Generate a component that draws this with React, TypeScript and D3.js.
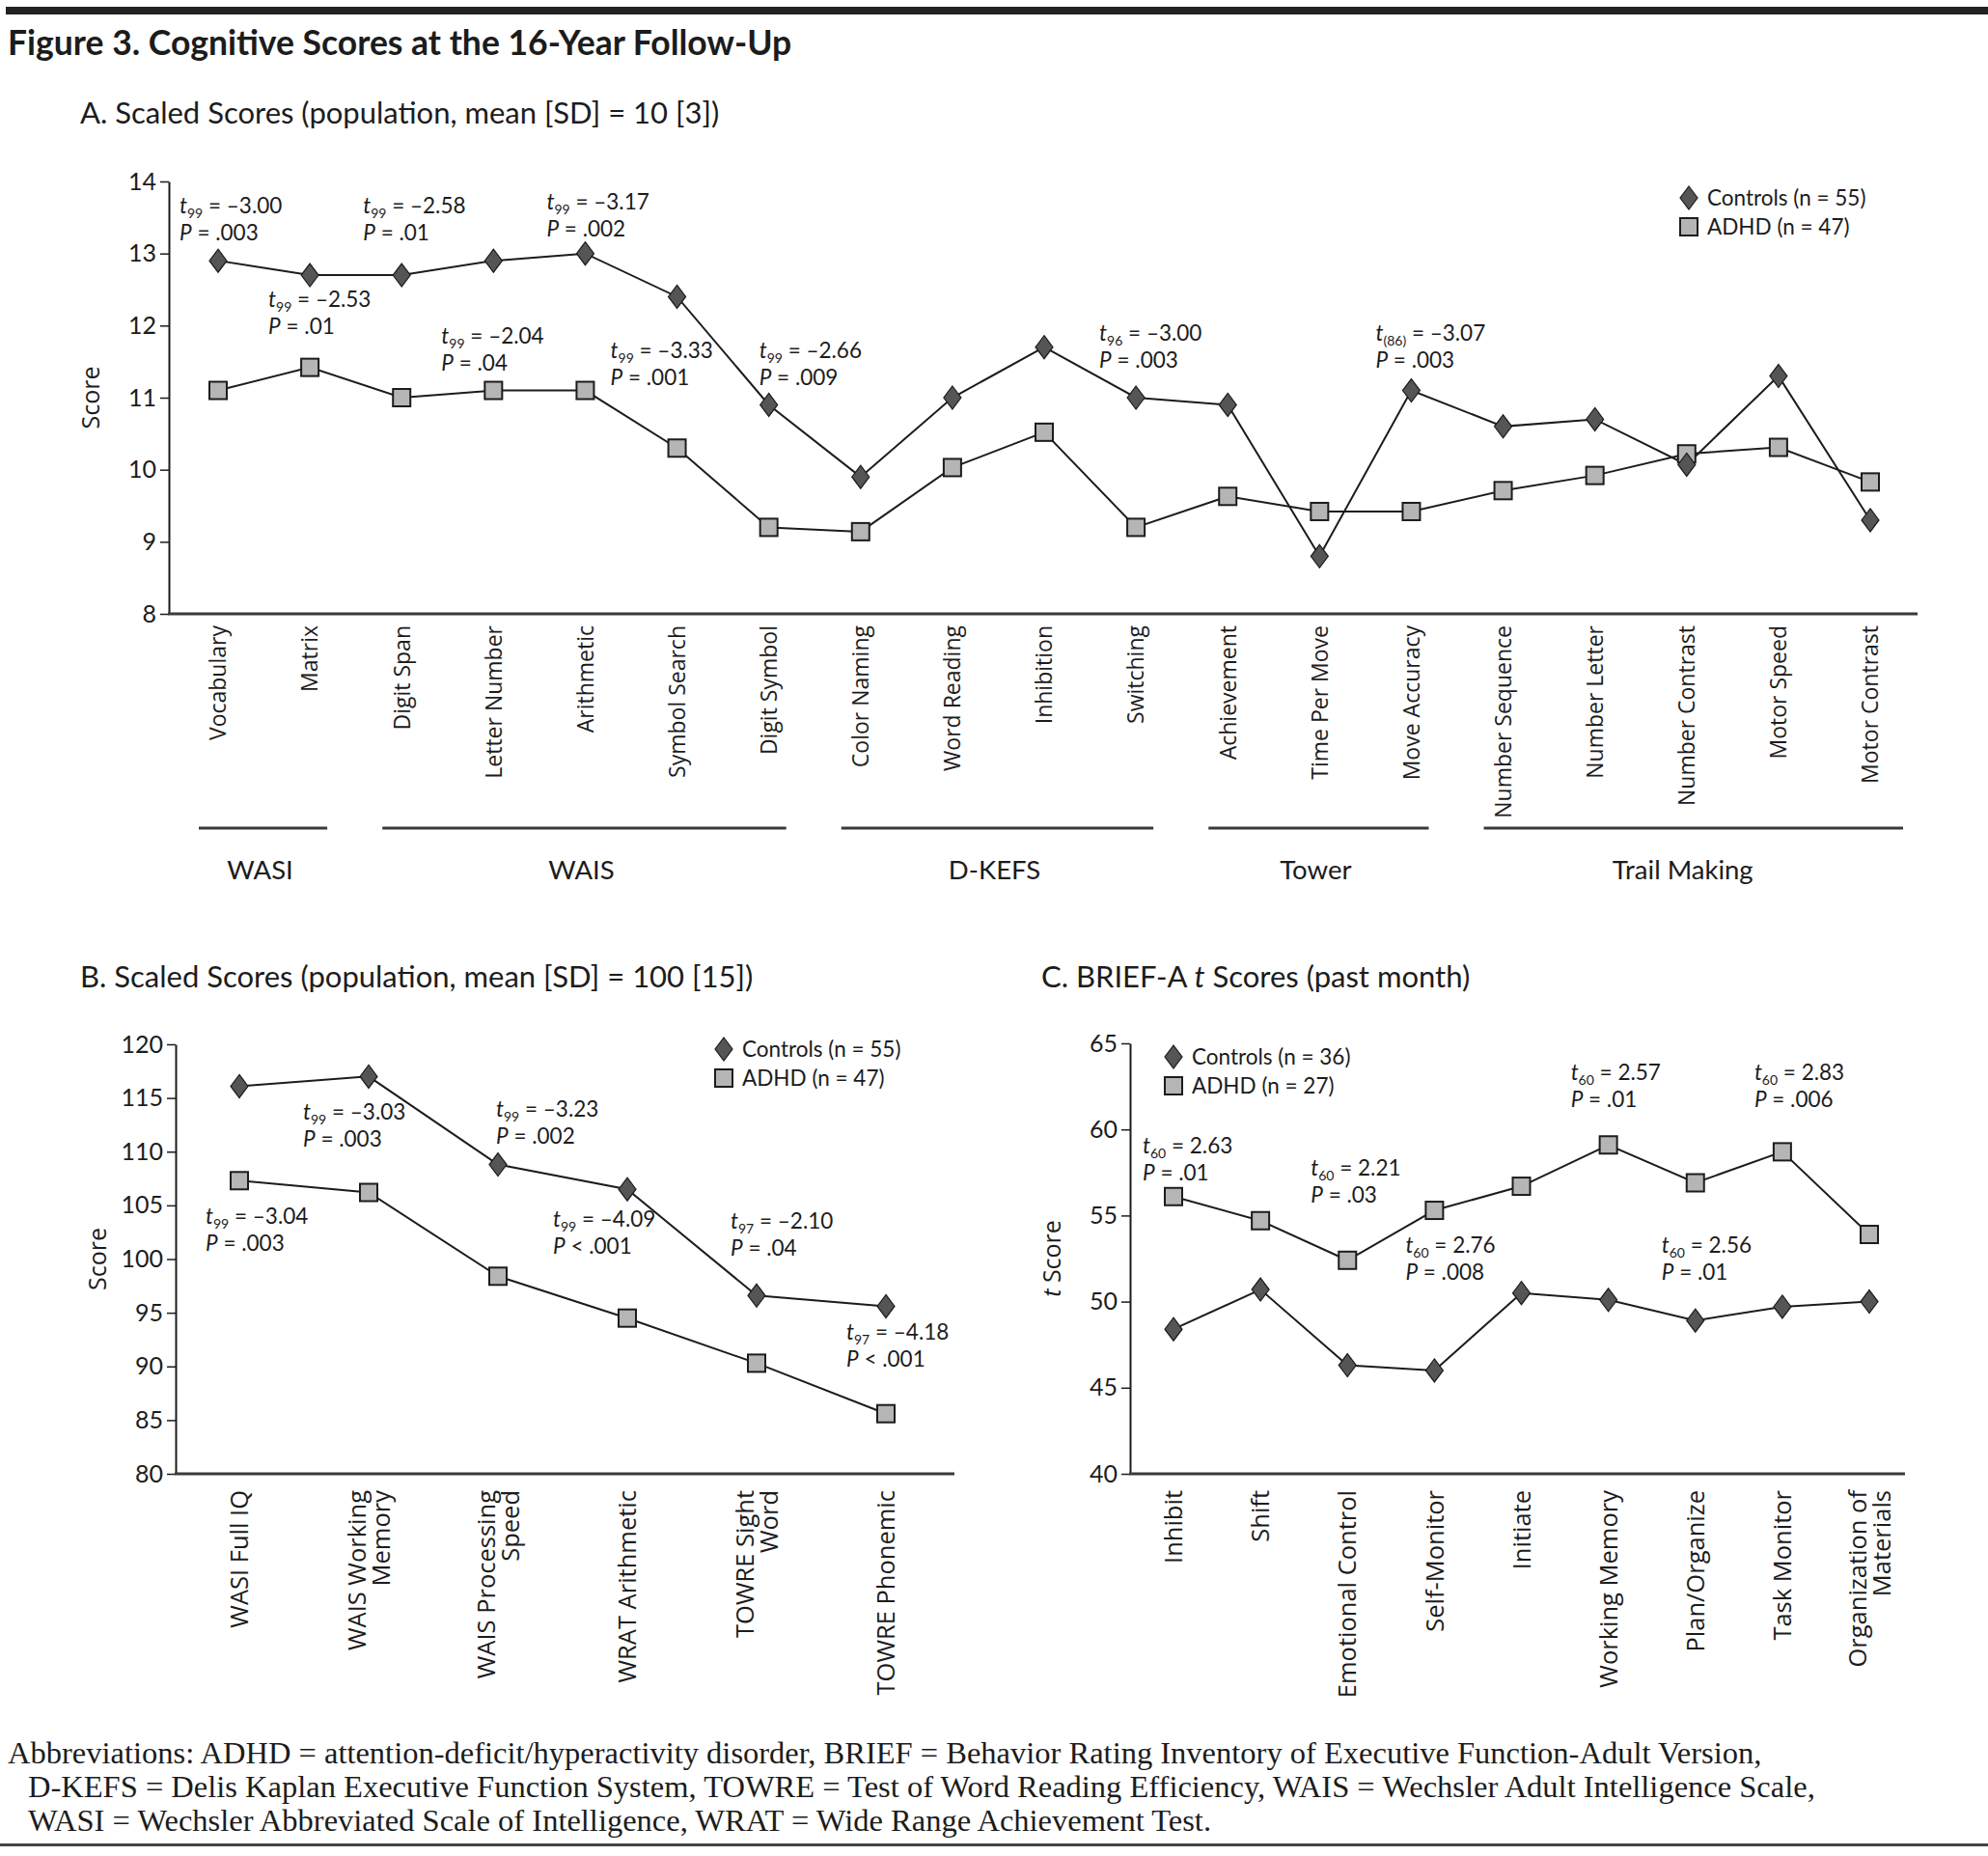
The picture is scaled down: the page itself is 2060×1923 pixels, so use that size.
import * as d3 from "d3";
import { useEffect, useRef } from "react";

// ---- data ----
const panelACategories = [
	"Vocabulary", "Matrix", "Digit Span", "Letter Number", "Arithmetic",
	"Symbol Search", "Digit Symbol", "Color Naming", "Word Reading", "Inhibition",
	"Switching", "Achievement", "Time Per Move", "Move Accuracy", "Number Sequence",
	"Number Letter", "Number Contrast", "Motor Speed", "Motor Contrast",
];
const panelAControls = [12.9, 12.7, 12.7, 12.9, 13.0, 12.4, 10.9, 9.9, 11.0, 11.7, 11.0, 10.9, 8.8, 11.1, 10.6, 10.7, 10.07, 11.3, 9.3];
const panelAAdhd = [11.1, 11.42, 11.0, 11.1, 11.1, 10.3, 9.2, 9.14, 10.03, 10.52, 9.2, 9.63, 9.42, 9.42, 9.71, 9.92, 10.22, 10.31, 9.83];
const panelATicks = [8, 9, 10, 11, 12, 13, 14];
const panelAGroups = [
	{ label: "WASI", from: "Vocabulary", to: "Matrix" },
	{ label: "WAIS", from: "Digit Span", to: "Digit Symbol" },
	{ label: "D-KEFS", from: "Color Naming", to: "Switching" },
	{ label: "Tower", from: "Achievement", to: "Move Accuracy" },
	{ label: "Trail Making", from: "Number Sequence", to: "Motor Contrast" },
];
const panelANotes = [
	{ cat: "Vocabulary", df: "99", t: "–3.00", p: "= .003" },
	{ cat: "Matrix", df: "99", t: "–2.53", p: "= .01" },
	{ cat: "Digit Span", df: "99", t: "–2.58", p: "= .01" },
	{ cat: "Letter Number", df: "99", t: "–2.04", p: "= .04" },
	{ cat: "Arithmetic", df: "99", t: "–3.17", p: "= .002" },
	{ cat: "Symbol Search", df: "99", t: "–3.33", p: "= .001" },
	{ cat: "Digit Symbol", df: "99", t: "–2.66", p: "= .009" },
	{ cat: "Switching", df: "96", t: "–3.00", p: "= .003" },
	{ cat: "Move Accuracy", df: "(86)", t: "–3.07", p: "= .003" },
];
const panelALegend = ["Controls (n = 55)", "ADHD (n = 47)"];

const panelBCategories = [
	"WASI Full IQ", "WAIS Working\nMemory", "WAIS Processing\nSpeed",
	"WRAT Arithmetic", "TOWRE Sight\nWord", "TOWRE Phonemic",
];
const panelBControls = [116.1, 117.0, 108.8, 106.5, 96.6, 95.6];
const panelBAdhd = [107.3, 106.2, 98.4, 94.5, 90.3, 85.6];
const panelBTicks = [80, 85, 90, 95, 100, 105, 110, 115, 120];
const panelBNotes = [
	{ cat: "WASI Full IQ", df: "99", t: "–3.04", p: "= .003" },
	{ cat: "WAIS Working\nMemory", df: "99", t: "–3.03", p: "= .003" },
	{ cat: "WAIS Processing\nSpeed", df: "99", t: "–3.23", p: "= .002" },
	{ cat: "WRAT Arithmetic", df: "99", t: "–4.09", p: "< .001" },
	{ cat: "TOWRE Sight\nWord", df: "97", t: "–2.10", p: "= .04" },
	{ cat: "TOWRE Phonemic", df: "97", t: "–4.18", p: "< .001" },
];
const panelBLegend = ["Controls (n = 55)", "ADHD (n = 47)"];

const panelCCategories = [
	"Inhibit", "Shift", "Emotional Control", "Self-Monitor", "Initiate",
	"Working Memory", "Plan/Organize", "Task Monitor", "Organization of\nMaterials",
];
const panelCControls = [48.4, 50.7, 46.3, 46.0, 50.5, 50.1, 48.9, 49.7, 50.0];
const panelCAdhd = [56.1, 54.7, 52.4, 55.3, 56.7, 59.1, 56.9, 58.7, 53.9];
const panelCTicks = [40, 45, 50, 55, 60, 65];
const panelCNotes = [
	{ cat: "Inhibit", df: "60", t: "2.63", p: "= .01" },
	{ cat: "Emotional Control", df: "60", t: "2.21", p: "= .03" },
	{ cat: "Self-Monitor", df: "60", t: "2.76", p: "= .008" },
	{ cat: "Working Memory", df: "60", t: "2.57", p: "= .01" },
	{ cat: "Plan/Organize", df: "60", t: "2.56", p: "= .01" },
	{ cat: "Task Monitor", df: "60", t: "2.83", p: "= .006" },
];
const panelCLegend = ["Controls (n = 36)", "ADHD (n = 27)"];

const footerLines = [
	"Abbreviations: ADHD = attention-deficit/hyperactivity disorder, BRIEF = Behavior Rating Inventory of Executive Function-Adult Version,",
	"D-KEFS = Delis Kaplan Executive Function System, TOWRE = Test of Word Reading Efficiency, WAIS = Wechsler Adult Intelligence Scale,",
	"WASI = Wechsler Abbreviated Scale of Intelligence, WRAT = Wide Range Achievement Test.",
];

// ---- layout ----
const SANS = "Lato, 'Open Sans', sans-serif";
const LABEL = "'Open Sans', 'Noto Sans', sans-serif";
const SERIF = "'Liberation Serif', 'DejaVu Serif', serif";
const INK = "#1c1c1c";
const DIAMOND_FILL = "#555555";
const SQUARE_FILL = "#b5b5b5";

interface Note {
	cat: string;
	df: string;
	t: string;
	p: string;
}
interface PanelLayout {
	left: number;
	right: number;
	top: number;
	bottom: number;
	firstX: number;
	lastX: number;
	labelGap: number;
	labelSize: number;
	legendX: number;
	legendY: number;
	yTitle: string;
	// note placement: [dx from category, y in axis units]
	notePos: [number, number][];
}

const layoutA: PanelLayout = {
	left: 175, right: 1987, top: 188, bottom: 636, firstX: 226, lastX: 1938,
	labelGap: 12, labelSize: 23, legendX: 1750, legendY: 205, yTitle: "Score",
	notePos: [[-40, 13.56], [-43, 12.26], [-40, 13.56], [-54, 11.75], [-40, 13.61],
		[-69, 11.55], [-10, 11.55], [-38, 11.79], [-37, 11.79]],
};
const layoutB: PanelLayout = {
	left: 182, right: 989, top: 1082, bottom: 1527, firstX: 248, lastX: 918,
	labelGap: 17, labelSize: 25.5, legendX: 750, legendY: 1087, yTitle: "Score",
	notePos: [[-35, 103.3], [-68, 113.0], [-2, 113.3], [-77, 103.0], [-27, 102.8], [-41, 92.5]],
};
const layoutC: PanelLayout = {
	left: 1171, right: 1974, top: 1081, bottom: 1527, firstX: 1216, lastX: 1937,
	labelGap: 17, labelSize: 25.5, legendX: 1216, legendY: 1095, yTitle: "t Score",
	notePos: [[-32, 58.6], [-38, 57.3], [-30, 52.85], [-39, 62.87], [-35, 52.85], [-29, 62.87]],
};

type Sel = d3.Selection<SVGSVGElement, unknown, null, undefined>;
type GSel = d3.Selection<SVGGElement, unknown, null, undefined>;

function diamond(g: GSel, x: number, y: number) {
	g.append("path")
		.attr("d", `M${x},${y - 12}L${x + 9},${y}L${x},${y + 12}L${x - 9},${y}Z`)
		.attr("fill", DIAMOND_FILL)
		.attr("stroke", INK)
		.attr("stroke-width", 1.2);
}
function square(g: GSel, x: number, y: number) {
	g.append("rect")
		.attr("x", x - 9)
		.attr("y", y - 9)
		.attr("width", 18)
		.attr("height", 18)
		.attr("fill", SQUARE_FILL)
		.attr("stroke", INK)
		.attr("stroke-width", 2);
}

function addNote(g: GSel, x: number, y: number, note: Note) {
	const t = g.append("text")
		.attr("x", x).attr("y", y)
		.attr("font-family", SANS).attr("font-size", 22.5).attr("fill", INK);
	t.append("tspan").attr("font-style", "italic").text("t");
	t.append("tspan").attr("font-size", 14).attr("dy", 5).text(note.df);
	t.append("tspan").attr("dy", -5).text(" = " + note.t);
	const p = g.append("text")
		.attr("x", x).attr("y", y + 28)
		.attr("font-family", SANS).attr("font-size", 22.5).attr("fill", INK);
	p.append("tspan").attr("font-style", "italic").text("P");
	p.append("tspan").text(" " + note.p);
}

function drawPanel(
	svg: Sel,
	lay: PanelLayout,
	cats: string[],
	controls: number[],
	adhd: number[],
	ticks: number[],
	notes: Note[],
	legend: string[],
) {
	const g = svg.append("g") as unknown as GSel;
	const x = d3.scalePoint<string>().domain(cats).range([lay.firstX, lay.lastX]);
	const y = d3.scaleLinear()
		.domain([ticks[0], ticks[ticks.length - 1]])
		.range([lay.bottom, lay.top]);

	// y axis
	const yAxis = g.append("g")
		.attr("transform", `translate(${lay.left},0)`)
		.call(d3.axisLeft(y).tickValues(ticks).tickFormat(d3.format("d")).tickSize(9).tickSizeOuter(0).tickPadding(4));
	yAxis.select(".domain").attr("stroke", INK).attr("stroke-width", 2);
	yAxis.selectAll(".tick line").attr("stroke", INK).attr("stroke-width", 1.5);
	yAxis.selectAll(".tick text")
		.attr("font-family", SANS).attr("font-size", 25).attr("fill", INK);

	// x axis baseline
	g.append("line")
		.attr("x1", lay.left - 1).attr("x2", lay.right)
		.attr("y1", lay.bottom).attr("y2", lay.bottom)
		.attr("stroke", "#3a3a3a").attr("stroke-width", 3);

	// y title
	const midY = (lay.top + lay.bottom) / 2;
	const yt = g.append("text")
		.attr("transform", `translate(${lay.left - 72},${midY}) rotate(-90)`)
		.attr("text-anchor", "middle")
		.attr("font-family", LABEL).attr("font-size", 25).attr("fill", INK);
	if (lay.yTitle.startsWith("t ")) {
		yt.append("tspan").attr("font-style", "italic").text("t");
		yt.append("tspan").text(lay.yTitle.slice(1));
	} else {
		yt.text(lay.yTitle);
	}

	// category labels
	cats.forEach((c) => {
		const lines = c.split("\n");
		const txt = g.append("text")
			.attr("transform", `translate(${x(c)},${lay.bottom}) rotate(-90)`)
			.attr("text-anchor", "end")
			.attr("font-family", LABEL).attr("font-size", lay.labelSize).attr("fill", INK);
		lines.forEach((ln, i) => {
			txt.append("tspan")
				.attr("x", -lay.labelGap)
				.attr("y", (i - (lines.length - 1) / 2) * 25)
				.attr("dy", "0.36em")
				.text(ln);
		});
	});

	// series lines
	const line = d3.line<number>()
		.x((_, i) => x(cats[i]) as number)
		.y((d) => y(d));
	g.append("path").attr("d", line(adhd))
		.attr("fill", "none").attr("stroke", INK).attr("stroke-width", 2);
	g.append("path").attr("d", line(controls))
		.attr("fill", "none").attr("stroke", INK).attr("stroke-width", 2);

	adhd.forEach((v, i) => square(g, x(cats[i]) as number, y(v)));
	controls.forEach((v, i) => diamond(g, x(cats[i]) as number, y(v)));

	// stat notes
	notes.forEach((n, i) => {
		const [dx, yv] = lay.notePos[i];
		addNote(g, (x(n.cat) as number) + dx, y(yv), n);
	});

	// legend
	diamond(g, lay.legendX, lay.legendY);
	square(g, lay.legendX, lay.legendY + 30);
	legend.forEach((lbl, i) => {
		g.append("text")
			.attr("x", lay.legendX + 19)
			.attr("y", lay.legendY + i * 30 + 8)
			.attr("font-family", SANS).attr("font-size", 22.5).attr("fill", INK)
			.text(lbl);
	});

	return { g, x };
}

function App() {
	const ref = useRef<SVGSVGElement>(null);

	useEffect(() => {
		document.body.style.margin = "0";
		const svg = d3.select(ref.current) as unknown as Sel;
		svg.selectAll("*").remove();

		svg.append("rect").attr("width", 2060).attr("height", 1923).attr("fill", "#fff");

		// top bar + title
		svg.append("rect").attr("x", 6).attr("y", 7).attr("width", 2054).attr("height", 8).attr("fill", "#222");
		svg.append("text")
			.attr("x", 8).attr("y", 57)
			.attr("font-family", SANS).attr("font-weight", 700).attr("font-size", 35.5).attr("fill", INK)
			.text("Figure 3. Cognitive Scores at the 16-Year Follow-Up");

		// panel titles
		const subtitle = (px: number, py: number) =>
			svg.append("text").attr("x", px).attr("y", py)
				.attr("font-family", SANS).attr("font-size", 31).attr("fill", INK);
		subtitle(83, 128).text("A. Scaled Scores (population, mean [SD] = 10 [3])");
		subtitle(83, 1023).text("B. Scaled Scores (population, mean [SD] = 100 [15])");
		const ct = subtitle(1079, 1023);
		ct.append("tspan").text("C. BRIEF-A ");
		ct.append("tspan").attr("font-style", "italic").text("t");
		ct.append("tspan").text(" Scores (past month)");

		const a = drawPanel(svg, layoutA, panelACategories, panelAControls, panelAAdhd, panelATicks, panelANotes, panelALegend);
		drawPanel(svg, layoutB, panelBCategories, panelBControls, panelBAdhd, panelBTicks, panelBNotes, panelBLegend);
		drawPanel(svg, layoutC, panelCCategories, panelCControls, panelCAdhd, panelCTicks, panelCNotes, panelCLegend);

		// test batteries under panel A
		panelAGroups.forEach((grp, i) => {
			const x0 = a.x(grp.from) as number;
			const x1 = a.x(grp.to) as number;
			const last = i === panelAGroups.length - 1;
			a.g.append("line")
				.attr("x1", x0 - 20).attr("x2", x1 + (last ? 34 : 18))
				.attr("y1", 858).attr("y2", 858)
				.attr("stroke", "#3a3a3a").attr("stroke-width", 3);
			a.g.append("text")
				.attr("x", (x0 + x1) / 2 - 4).attr("y", 911)
				.attr("text-anchor", "middle")
				.attr("font-family", SANS).attr("font-size", 27.5).attr("fill", INK)
				.text(grp.label);
		});

		// footer
		footerLines.forEach((ln, i) => {
			svg.append("text")
				.attr("x", i === 0 ? 8 : 29).attr("y", 1827 + i * 35)
				.attr("font-family", SERIF).attr("font-size", 32.5).attr("fill", INK)
				.text(ln);
		});
		svg.append("rect").attr("x", 0).attr("y", 1910).attr("width", 2060).attr("height", 3).attr("fill", "#444");
	}, []);

	return <svg ref={ref} width={2060} height={1923} style={{ display: "block" }} />;
}

export default App;
